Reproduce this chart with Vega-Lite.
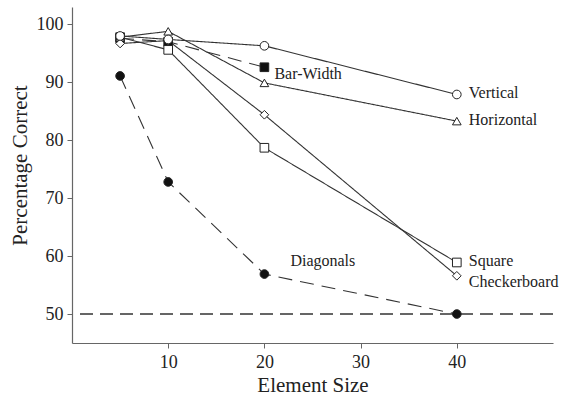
{
  "$schema": "https://vega.github.io/schema/vega-lite/v6.json",
  "width": 481,
  "height": 336,
  "autosize": {"type": "none"},
  "padding": {"left": 72, "top": 7, "right": 9, "bottom": 61},
  "background": "white",
  "config": {
    "font": "Liberation Serif",
    "view": {"stroke": null},
    "axis": {
      "grid": false,
      "domainColor": "#666",
      "domainWidth": 1.2,
      "tickColor": "#666",
      "tickWidth": 1,
      "tickSize": 5,
      "labelFont": "Liberation Serif",
      "labelFontSize": 18,
      "labelColor": "#222",
      "titleFont": "Liberation Serif",
      "titleFontSize": 21,
      "titleFontWeight": "normal",
      "titleColor": "#222"
    }
  },
  "data": {
    "values": [
      {"series": "Bar-Width", "size": 5, "pct": 97.6},
      {"series": "Bar-Width", "size": 10, "pct": 97.0},
      {"series": "Bar-Width", "size": 20, "pct": 92.6},
      {"series": "Diagonals", "size": 5, "pct": 91.1},
      {"series": "Diagonals", "size": 10, "pct": 72.8},
      {"series": "Diagonals", "size": 20, "pct": 56.9},
      {"series": "Diagonals", "size": 40, "pct": 50.0},
      {"series": "Square", "size": 5, "pct": 97.8},
      {"series": "Square", "size": 10, "pct": 95.6},
      {"series": "Square", "size": 20, "pct": 78.7},
      {"series": "Square", "size": 40, "pct": 58.9},
      {"series": "Horizontal", "size": 5, "pct": 97.8},
      {"series": "Horizontal", "size": 10, "pct": 98.8},
      {"series": "Horizontal", "size": 20, "pct": 89.9},
      {"series": "Horizontal", "size": 40, "pct": 83.3},
      {"series": "Checkerboard", "size": 5, "pct": 96.7},
      {"series": "Checkerboard", "size": 10, "pct": 97.2},
      {"series": "Checkerboard", "size": 20, "pct": 84.4},
      {"series": "Checkerboard", "size": 40, "pct": 56.6},
      {"series": "Vertical", "size": 5, "pct": 98.0},
      {"series": "Vertical", "size": 10, "pct": 97.4},
      {"series": "Vertical", "size": 20, "pct": 96.3},
      {"series": "Vertical", "size": 40, "pct": 87.9}
    ]
  },
  "encoding": {
    "x": {
      "field": "size",
      "type": "quantitative",
      "title": "Element Size",
      "scale": {"domain": [0, 50], "nice": false, "zero": false},
      "axis": {"values": [10, 20, 30, 40], "labelPadding": 5, "titleY": 42, "titleBaseline": "middle"}
    },
    "y": {
      "field": "pct",
      "type": "quantitative",
      "title": "Percentage Correct",
      "scale": {"domain": [45, 103], "nice": false, "zero": false},
      "axis": {"values": [50, 60, 70, 80, 90, 100], "labelPadding": 4, "titleX": -52, "titleY": 158, "titleAngle": -90, "titleAlign": "center", "titleBaseline": "middle"}
    }
  },
  "layer": [
    {
      "mark": {"type": "rule", "strokeDash": [13, 7], "color": "#666", "strokeWidth": 1.2},
      "encoding": {"y": {"datum": 50}, "x": null}
    },
    {
      "mark": {"type": "line", "color": "#333", "strokeWidth": 1.1},
      "encoding": {
        "detail": {"field": "series"},
        "strokeDash": {
          "field": "series",
          "type": "nominal",
          "legend": null,
          "scale": {
            "domain": ["Vertical", "Horizontal", "Square", "Checkerboard", "Bar-Width", "Diagonals"],
            "range": [[1, 0], [1, 0], [1, 0], [1, 0], [14, 8], [14, 8]]
          }
        }
      }
    },
    {
      "mark": {"type": "point", "filled": true, "stroke": "#222", "strokeWidth": 1, "opacity": 1, "size": 75},
      "encoding": {
        "shape": {
          "field": "series",
          "type": "nominal",
          "legend": null,
          "scale": {
            "domain": ["Vertical", "Horizontal", "Square", "Checkerboard", "Bar-Width", "Diagonals"],
            "range": ["circle", "triangle-up", "square", "diamond", "square", "circle"]
          }
        },
        "fill": {
          "field": "series",
          "type": "nominal",
          "legend": null,
          "scale": {
            "domain": ["Vertical", "Horizontal", "Square", "Checkerboard", "Bar-Width", "Diagonals"],
            "range": ["white", "white", "white", "white", "#111", "#111"]
          }
        }
      }
    },
    {
      "transform": [{"filter": "datum.size == 40 && (datum.series == 'Vertical' || datum.series == 'Horizontal' || datum.series == 'Square')"}],
      "mark": {"type": "text", "align": "left", "baseline": "middle", "dx": 12, "dy": -1, "fontSize": 16, "color": "#222"},
      "encoding": {"text": {"field": "series"}}
    },
    {
      "transform": [{"filter": "datum.size == 40 && datum.series == 'Checkerboard'"}],
      "mark": {"type": "text", "align": "left", "baseline": "middle", "dx": 12, "dy": 6, "fontSize": 16, "color": "#222"},
      "encoding": {"text": {"field": "series"}}
    },
    {
      "transform": [{"filter": "datum.size == 20 && datum.series == 'Bar-Width'"}],
      "mark": {"type": "text", "align": "left", "baseline": "middle", "dx": 10, "dy": 7, "fontSize": 16, "color": "#222"},
      "encoding": {"text": {"field": "series"}}
    },
    {
      "transform": [{"filter": "datum.size == 20 && datum.series == 'Diagonals'"}],
      "mark": {"type": "text", "align": "left", "baseline": "middle", "dx": 26, "dy": -13, "fontSize": 16, "color": "#222"},
      "encoding": {"text": {"field": "series"}}
    }
  ]
}
